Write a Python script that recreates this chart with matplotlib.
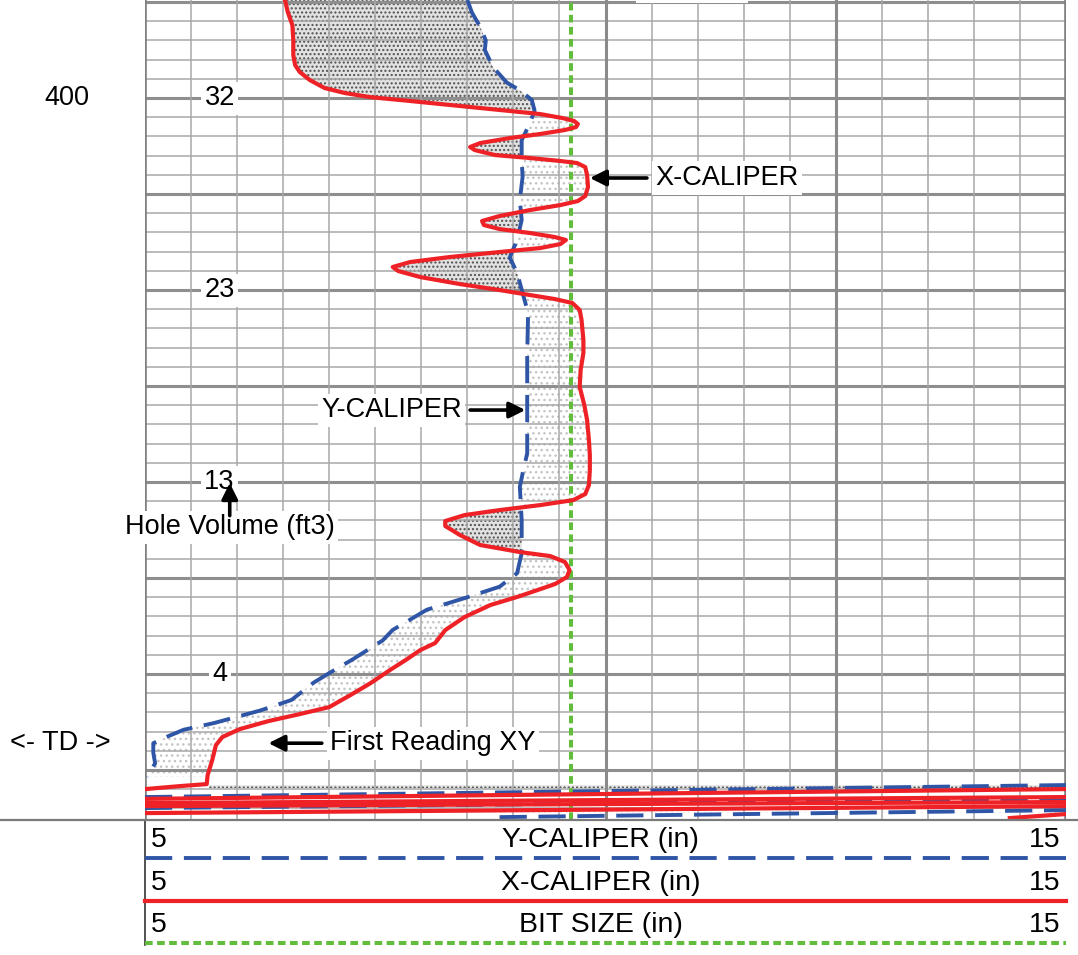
import numpy as np
import matplotlib
matplotlib.use("Agg")
import matplotlib.pyplot as plt
from matplotlib.lines import Line2D
from matplotlib.patches import Rectangle

plt.rcParams['font.family'] = ['Liberation Sans', 'DejaVu Sans']
plt.rcParams['hatch.linewidth'] = 1.0

# ---------------- data ----------------
scale_min, scale_max = 5.0, 15.0          # caliper scale (in)
depth_top, depth_bottom = 389.79, 475.2   # depth window (ft)
bit_size = 9.625                          # in
td_depth = 467.2
depth_label = 400

# X-caliper (in) by depth (ft)
x_cal_depth = [389.79, 391.04, 392.40, 393.96, 395.52, 396.56, 397.29, 398.13, 398.96, 399.48,
               399.90, 400.31, 400.83, 401.35, 401.67, 402.08, 402.40, 402.71, 403.02, 403.33,
               403.75, 404.17, 404.69, 405.10, 405.42, 405.94, 406.25, 406.56, 406.77, 407.19,
               408.02, 409.27, 410.21, 410.73, 411.15, 411.67, 412.29, 412.81, 413.23, 413.65,
               414.06, 414.48, 414.79, 415.21, 415.63, 416.04, 416.56, 417.08, 417.60, 418.02,
               418.65, 419.38, 420.00, 420.52, 420.94, 421.35, 422.08, 423.13, 425.21, 426.56,
               428.33, 430.10, 431.98, 433.54, 435.63, 437.19, 438.75, 440.31, 441.25, 441.88,
               442.40, 442.92, 443.44, 444.06, 444.58, 445.52, 446.56, 447.29, 447.71, 448.33,
               449.17, 449.90, 450.63, 451.88, 452.81, 454.06, 455.42, 456.77, 457.50, 458.54,
               459.58, 460.94, 462.19, 463.44, 464.17, 464.90, 465.73, 466.56, 467.40, 468.96,
               470.52, 471.46, 471.67, 471.98]
x_cal = [6.52, 6.55, 6.60, 6.61, 6.61, 6.63, 6.68, 6.79, 6.95, 7.17,
         7.44, 7.88, 8.42, 8.96, 9.29, 9.53, 9.66, 9.70, 9.68, 9.56,
         9.29, 8.96, 8.64, 8.53, 8.58, 8.80, 9.18, 9.51, 9.69, 9.78,
         9.80, 9.81, 9.78, 9.70, 9.51, 9.18, 8.85, 8.66, 8.68, 8.85,
         9.18, 9.45, 9.57, 9.51, 9.29, 8.85, 8.31, 7.88, 7.69, 7.75,
         7.99, 8.42, 8.85, 9.18, 9.45, 9.64, 9.72, 9.74, 9.76, 9.76,
         9.73, 9.72, 9.77, 9.80, 9.82, 9.83, 9.83, 9.82, 9.78, 9.65,
         9.29, 8.85, 8.47, 8.26, 8.26, 8.42, 8.64, 9.07, 9.40, 9.56,
         9.61, 9.58, 9.45, 9.07, 8.75, 8.47, 8.26, 8.15, 7.99, 7.83,
         7.66, 7.45, 7.23, 7.00, 6.68, 6.34, 6.03, 5.84, 5.77, 5.73,
         5.68, 5.67, 5.38, 5.00]

# Y-caliper (in) by depth (ft)
y_cal_depth = [389.8, 391.1, 392.6, 394.0, 395.0, 396.8, 398.4, 399.2, 400.2, 401.3,
               402.6, 404.4, 406.5, 408.2, 410.6, 412.7, 414.8, 416.6, 418.2, 420.3,
               422.4, 426.6, 431.8, 437.0, 439.1, 440.5, 444.0, 447.4, 449.5, 450.9,
               452.0, 453.3, 455.4, 456.5, 458.5, 459.9, 460.9, 462.7, 463.8, 465.1,
               465.8, 466.6, 467.2, 468.2, 469.3, 470.7]
y_cal = [8.50, 8.55, 8.64, 8.70, 8.69, 8.78, 8.93, 9.07, 9.20, 9.23,
         9.18, 9.09, 9.09, 9.10, 9.07, 9.09, 9.04, 8.96, 9.04, 9.10,
         9.16, 9.15, 9.15, 9.15, 9.10, 9.07, 9.09, 9.09, 9.04, 8.85,
         8.50, 8.06, 7.69, 7.58, 7.25, 7.00, 6.83, 6.59, 6.25, 5.75,
         5.42, 5.22, 5.09, 5.09, 5.11, 5.02]

# Wrapped readings below TD (in, ft)
x_wrap_in = [[5.0, 15.0], [5.0, 15.0], [5.0, 15.0], [5.0, 15.0], [14.39, 15.0]]
x_wrap_depth = [[473.0, 471.98], [473.44, 472.81], [473.75, 473.33],
                [474.48, 473.75], [475.0, 474.58]]
y_wrap_in = [[5.0, 15.0], [5.0, 15.0], [8.85, 15.0]]
y_wrap_depth = [[472.81, 471.56], [473.96, 473.02], [474.9, 474.17]]

# Cumulative hole volume marks
vol_depths = [400, 420, 440, 460]
hole_volume = [32, 23, 13, 4]

# ---------------- styles ----------------
RED = '#ee2226'
BLUE = '#2f55a6'
GREEN = '#62bd3c'
FS = 19.5
HFS = 20.5
blue_dash = (0, (7.0, 3.0))
green_dot = (0, (1.9, 1.1))
BLUE_LW, RED_LW, GREEN_LW = 2.8, 3.0, 2.9

W, H = 1078, 955
fig = plt.figure(figsize=(W / 100, H / 100), dpi=100)

track_left, track_right, track_bottom_px = 145, 1066, 820
ax = fig.add_axes([track_left / W, 1 - track_bottom_px / H,
                   (track_right - track_left) / W, track_bottom_px / H])
ax.set_xlim(scale_min, scale_max)
ax.set_ylim(depth_bottom, depth_top)
ax.set_xticks([])
ax.set_yticks([])
for s in ax.spines.values():
    s.set_visible(False)

# grid
for d in np.arange(390, 475, 2):
    heavy = (d % 10 == 0)
    ax.axhline(d, color='#8e8e8e' if heavy else '#a8a8a8',
               lw=2.2 if heavy else 1.1, zorder=2)
for x in np.arange(5.5, 15.0, 0.5):
    heavy = x in (10.0, 12.5)
    ax.axvline(x, color='#8a8a8a' if heavy else '#a8a8a8',
               lw=2.2 if heavy else 1.1, zorder=2)
for x in (scale_min, scale_max):
    ax.axvline(x, color='#808080', lw=2.6, zorder=2)

# shading between the two calipers
d = np.linspace(y_cal_depth[0], y_cal_depth[-1], 3000)
xr = np.interp(d, x_cal_depth, x_cal)
xb = np.interp(d, y_cal_depth, y_cal)
ax.fill_betweenx(d, xr, xb, where=xr < xb, interpolate=True,
                 facecolor='#e2e2e2', edgecolor='#505050', hatch='....',
                 linewidth=0, zorder=1)
ax.fill_betweenx(d, xr, xb, where=xr >= xb, interpolate=True,
                 facecolor='white', edgecolor='#c4c4c4', hatch='...',
                 linewidth=0, zorder=1)

# stippled bands among the wrapped readings
ax.fill_between([5.7, 15.0], 471.55, 471.85, facecolor='#e8e8e8',
                edgecolor='#505050', hatch='....', linewidth=0, zorder=1)
ax.fill_between([6.0, 15.0], 474.35, 474.6, facecolor='white',
                edgecolor='#b4b4b4', hatch='...', linewidth=0, zorder=1)

# bit size
ax.axvline(bit_size, color=GREEN, lw=GREEN_LW, ls=green_dot, zorder=3)

# curves
ax.plot(y_cal, y_cal_depth, color=BLUE, lw=BLUE_LW, ls=blue_dash, zorder=4)
ax.plot(x_cal, x_cal_depth, color=RED, lw=RED_LW, zorder=5,
        solid_joinstyle='round')
for xs, ds in zip(y_wrap_in, y_wrap_depth):
    ax.plot(xs, ds, color=BLUE, lw=BLUE_LW, ls=blue_dash, zorder=4)
for xs, ds in zip(x_wrap_in, x_wrap_depth):
    ax.plot(xs, ds, color=RED, lw=RED_LW, zorder=5)

# top gap
ax.add_patch(Rectangle((10.33, depth_top), 1.22, 0.35, facecolor='white',
                       edgecolor='none', zorder=2.5, clip_on=False))

# hole volume marks
box = dict(facecolor='white', edgecolor='none', pad=2.5)
for dv, v in zip(vol_depths, hole_volume):
    ax.text(5.81, dv, str(v), ha='center', va='center', fontsize=FS,
            bbox=box, zorder=6)

# depth label and TD marker
ax.text(4.153, depth_label, str(depth_label), ha='center', va='center',
        fontsize=FS, clip_on=False)
ax.text(3.53, td_depth, '<- TD ->', ha='left', va='center', fontsize=FS,
        clip_on=False)

arrow = dict(arrowstyle='-|>', color='black', lw=2.6, mutation_scale=24,
             shrinkA=0, shrinkB=0)

ax.annotate('', xy=(9.83, 408.33), xytext=(10.45, 408.33), arrowprops=arrow, zorder=7)
ax.text(10.54, 408.33, 'X-CALIPER', ha='left', va='center', fontsize=FS,
        bbox=box, zorder=6)

ax.annotate('', xy=(9.13, 432.5), xytext=(8.53, 432.5), arrowprops=arrow, zorder=7)
ax.text(8.44, 432.5, 'Y-CALIPER', ha='right', va='center', fontsize=FS,
        bbox=box, zorder=6)

ax.annotate('', xy=(6.34, 467.2), xytext=(6.92, 467.2), arrowprops=arrow, zorder=7)
ax.text(7.01, 467.2, 'First Reading XY', ha='left', va='center', fontsize=FS,
        bbox=box, zorder=6)

ax.text(5.92, 444.7, 'Hole Volume (ft3)', ha='center', va='center',
        fontsize=FS, bbox=box, zorder=6)
ax.annotate('', xy=(5.92, 440.1), xytext=(5.92, 443.5), arrowprops=arrow, zorder=8)

# ---------------- header ----------------
fig.add_artist(Line2D([0, 1], [1 - track_bottom_px / H] * 2,
                      transform=fig.transFigure, color='#7a7a7a', lw=1.6))

hax = fig.add_axes([track_left / W, 0, (track_right - track_left) / W,
                    (H - track_bottom_px) / H])
hax.set_xlim(scale_min, scale_max)
hax.set_ylim(H - track_bottom_px, 0)
hax.axis('off')
hax.plot([scale_min, scale_min], [0, 125], color='#333333', lw=1.2,
         clip_on=False)

rows = [('Y-CALIPER (in)', dict(color=BLUE, lw=BLUE_LW, ls=blue_dash)),
        ('X-CALIPER (in)', dict(color=RED, lw=RED_LW)),
        ('BIT SIZE (in)', dict(color=GREEN, lw=GREEN_LW, ls=green_dot))]
for i, (title, style) in enumerate(rows):
    ty = 20 + i * 42.5
    ly = 38 + i * 42.5
    hax.text(scale_min + 0.06, ty, str(int(scale_min)), ha='left', va='center',
             fontsize=HFS)
    hax.text(9.95, ty, title, ha='center', va='center', fontsize=HFS)
    hax.text(scale_max - 0.06, ty, str(int(scale_max)), ha='right',
             va='center', fontsize=HFS)
    hax.plot([scale_min, scale_max], [ly, ly], clip_on=False, **style)

fig.savefig('out.png', dpi=100)
